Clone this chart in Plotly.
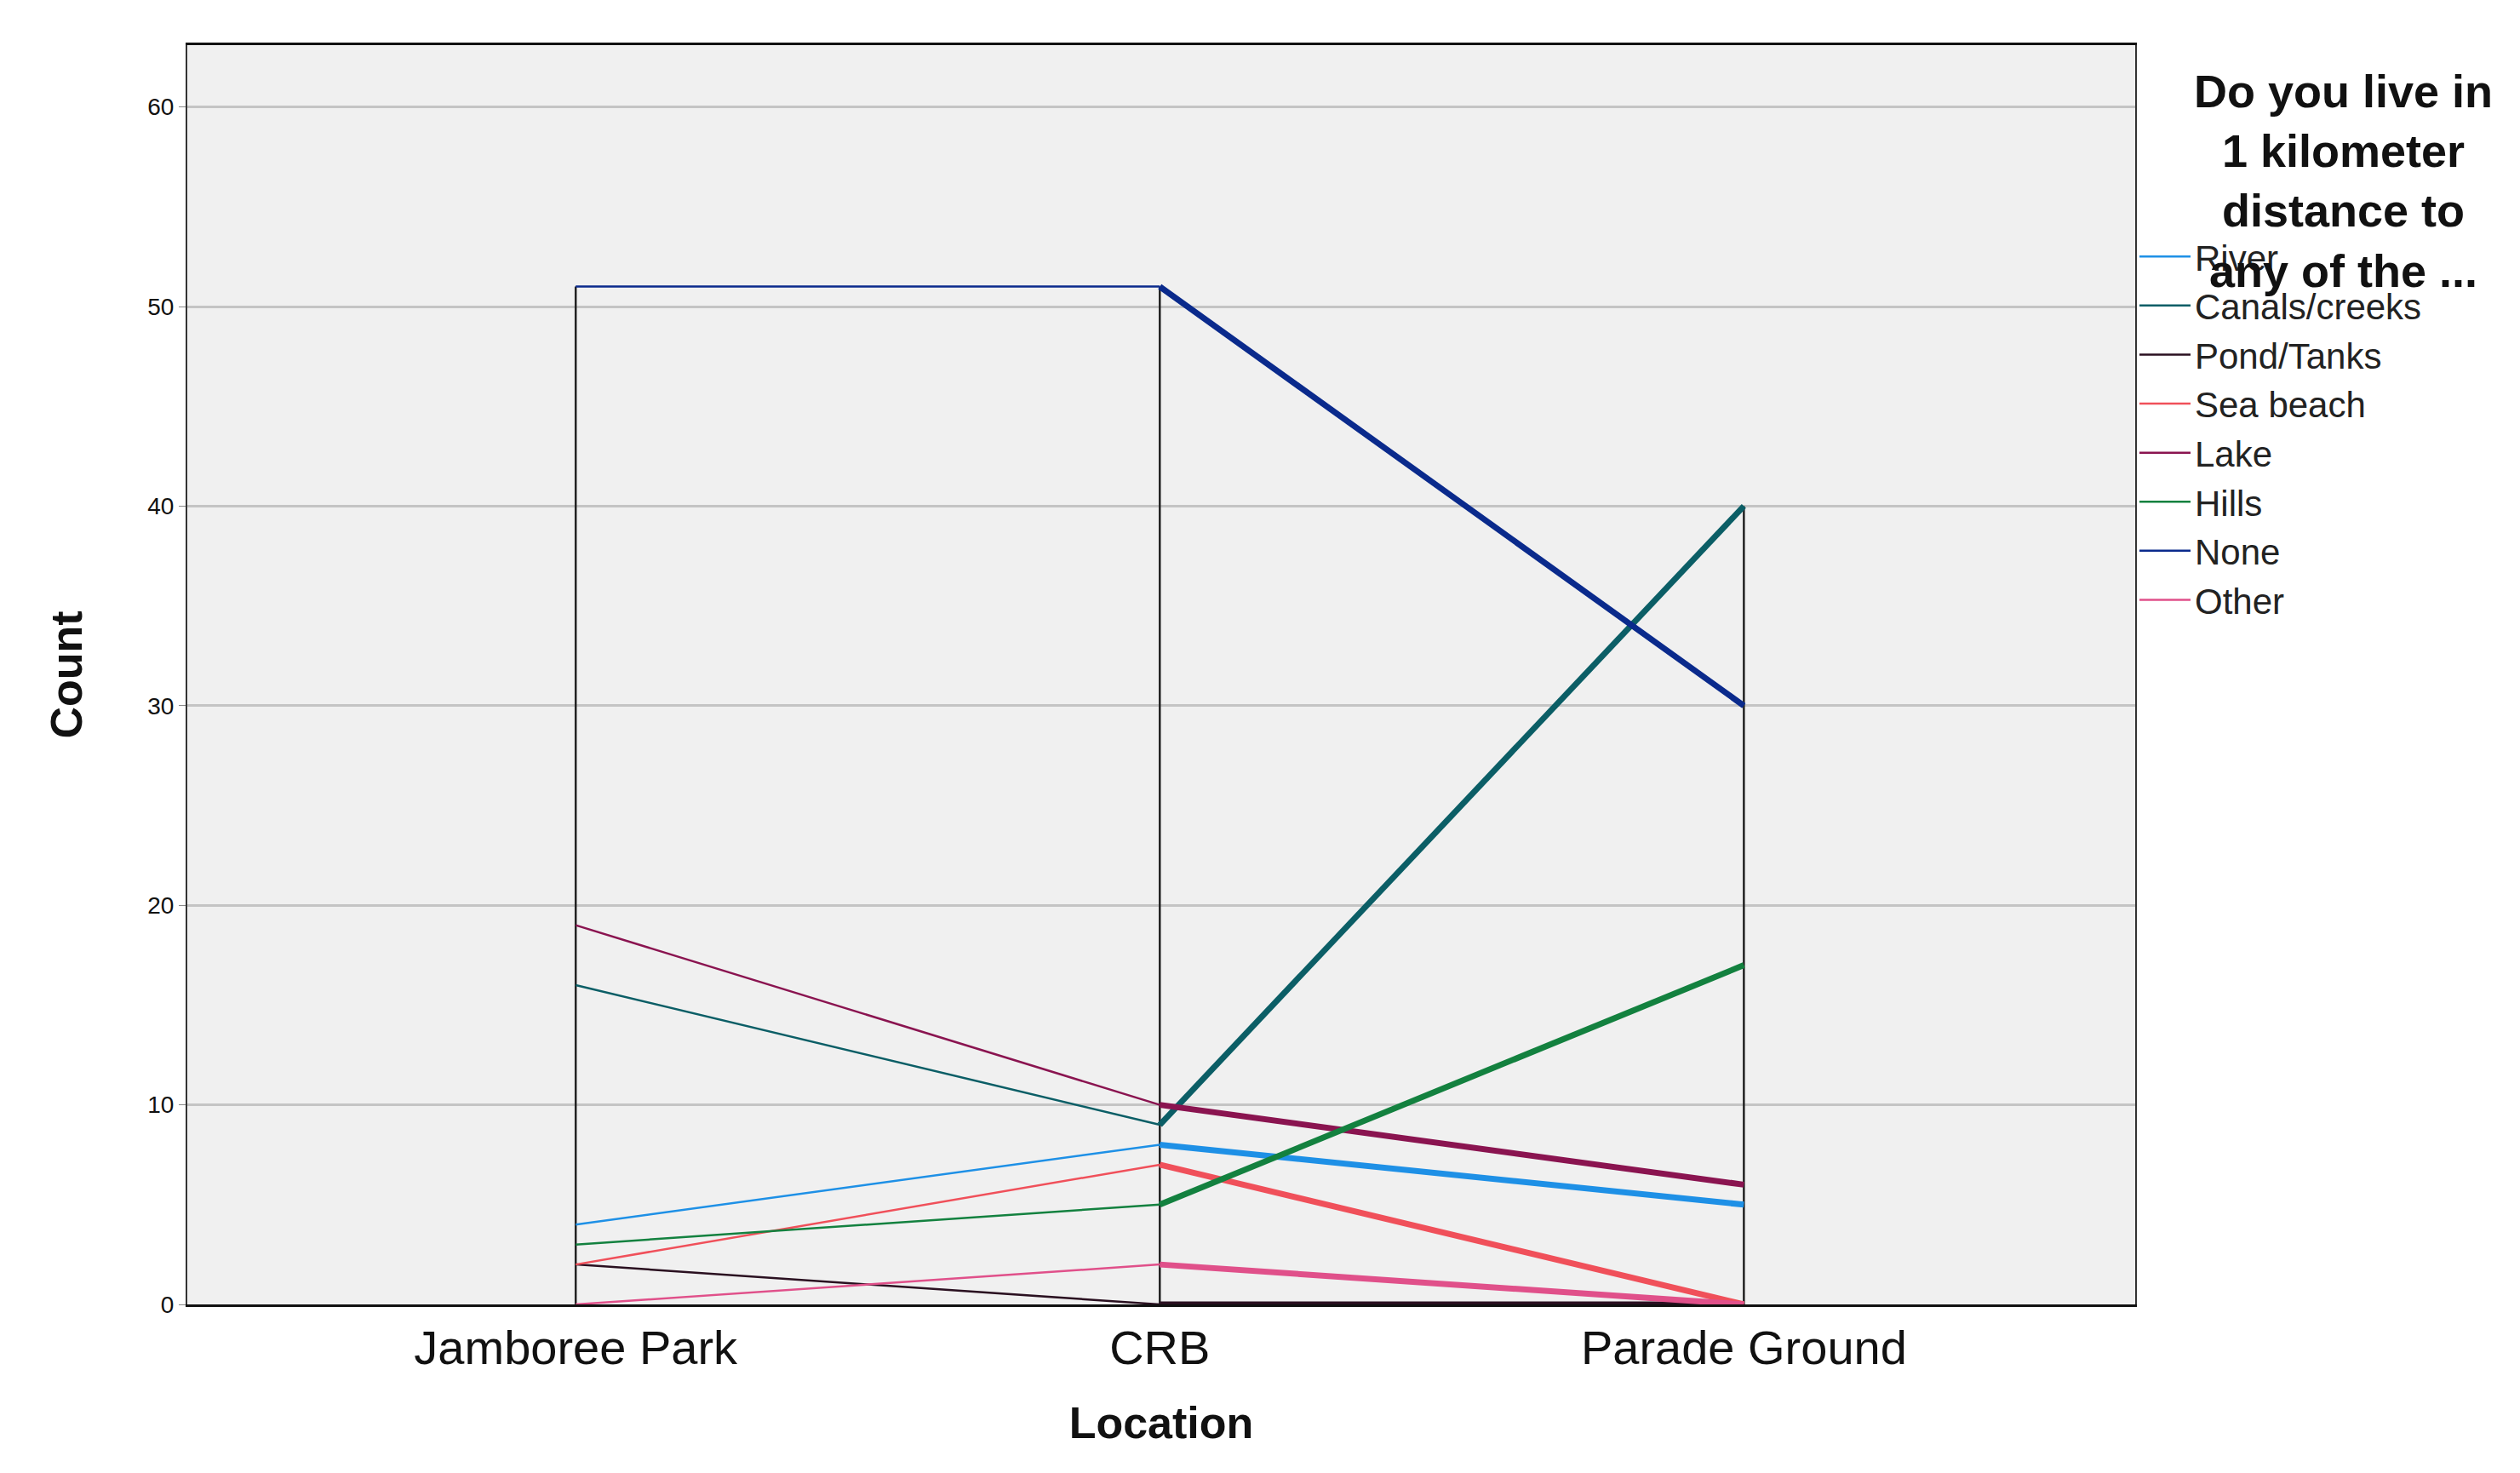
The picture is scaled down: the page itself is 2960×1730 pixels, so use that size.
import plotly.graph_objects as go

locations = ["Jamboree Park", "CRB", "Parade Ground"]
series = ["River", "Canals/creeks", "Pond/Tanks", "Sea beach", "Lake", "Hills", "None", "Other"]
counts = {
    "River": [4, 8, 5],
    "Canals/creeks": [16, 9, 40],
    "Pond/Tanks": [2, 0, 0],
    "Sea beach": [2, 7, 0],
    "Lake": [19, 10, 6],
    "Hills": [3, 5, 17],
    "None": [51, 51, 30],
    "Other": [0, 2, 0],
}
colors = {
    "River": "#1e90e6",
    "Canals/creeks": "#0b5e66",
    "Pond/Tanks": "#2a1020",
    "Sea beach": "#f0505a",
    "Lake": "#8a1450",
    "Hills": "#13813f",
    "None": "#0a2a8c",
    "Other": "#e0508a",
}

fig = go.Figure()

# drop lines from 0 up to the highest value at each location
dx, dy = [], []
for i, loc in enumerate(locations):
    top = max(counts[s][i] for s in series)
    dx += [loc, loc, None]
    dy += [0, top, None]
fig.add_trace(go.Scatter(x=dx, y=dy, mode="lines", line=dict(color="#222222", width=2.5),
                         showlegend=False, hoverinfo="skip"))

for s in series:
    v = counts[s]
    fig.add_trace(go.Scatter(x=locations[:2], y=v[:2], mode="lines", name=s,
                             line=dict(color=colors[s], width=2.5), legendgroup=s))
    fig.add_trace(go.Scatter(x=locations[1:], y=v[1:], mode="lines", name=s, showlegend=False,
                             line=dict(color=colors[s], width=7), legendgroup=s))

fig.update_layout(
    width=2960, height=1730,
    margin=dict(l=212, r=460, t=45, b=206),
    paper_bgcolor="white", plot_bgcolor="#f0f0f0",
    font=dict(family="Liberation Sans, Arial", color="#111111"),
    legend=dict(x=1.0, xanchor="left", y=0.855, yanchor="top",
                font=dict(size=42, color="#222222"), bgcolor="rgba(0,0,0,0)",
                tracegroupgap=0, itemwidth=60),
    annotations=[dict(text="<b>Do you live in<br>1 kilometer<br>distance to<br>any of the ...</b>",
                      xref="paper", yref="paper", x=1.107, y=0.985, xanchor="center", yanchor="top",
                      showarrow=False, align="center",
                      font=dict(size=54, color="#111111", family="Liberation Sans, Arial"))],
)
fig.update_xaxes(range=[-0.665, 2.67], showgrid=False, ticks="", tickfont=dict(size=56),
                 title=dict(text="<b>Location</b>", font=dict(size=52), standoff=40),
                 showline=True, linecolor="#111111", linewidth=3, mirror=True)
fig.update_yaxes(range=[0, 63.1], tickvals=[0, 10, 20, 30, 40, 50, 60], showgrid=True,
                 gridcolor="#c4c4c4", gridwidth=3, zeroline=False, tickfont=dict(size=28),
                 ticks="outside", ticklen=8, tickcolor="#888888",
                 title=dict(text="<b>Count</b>", font=dict(size=52), standoff=60),
                 showline=True, linecolor="#333333", linewidth=2, mirror=True)

fig.write_html("out.html")
